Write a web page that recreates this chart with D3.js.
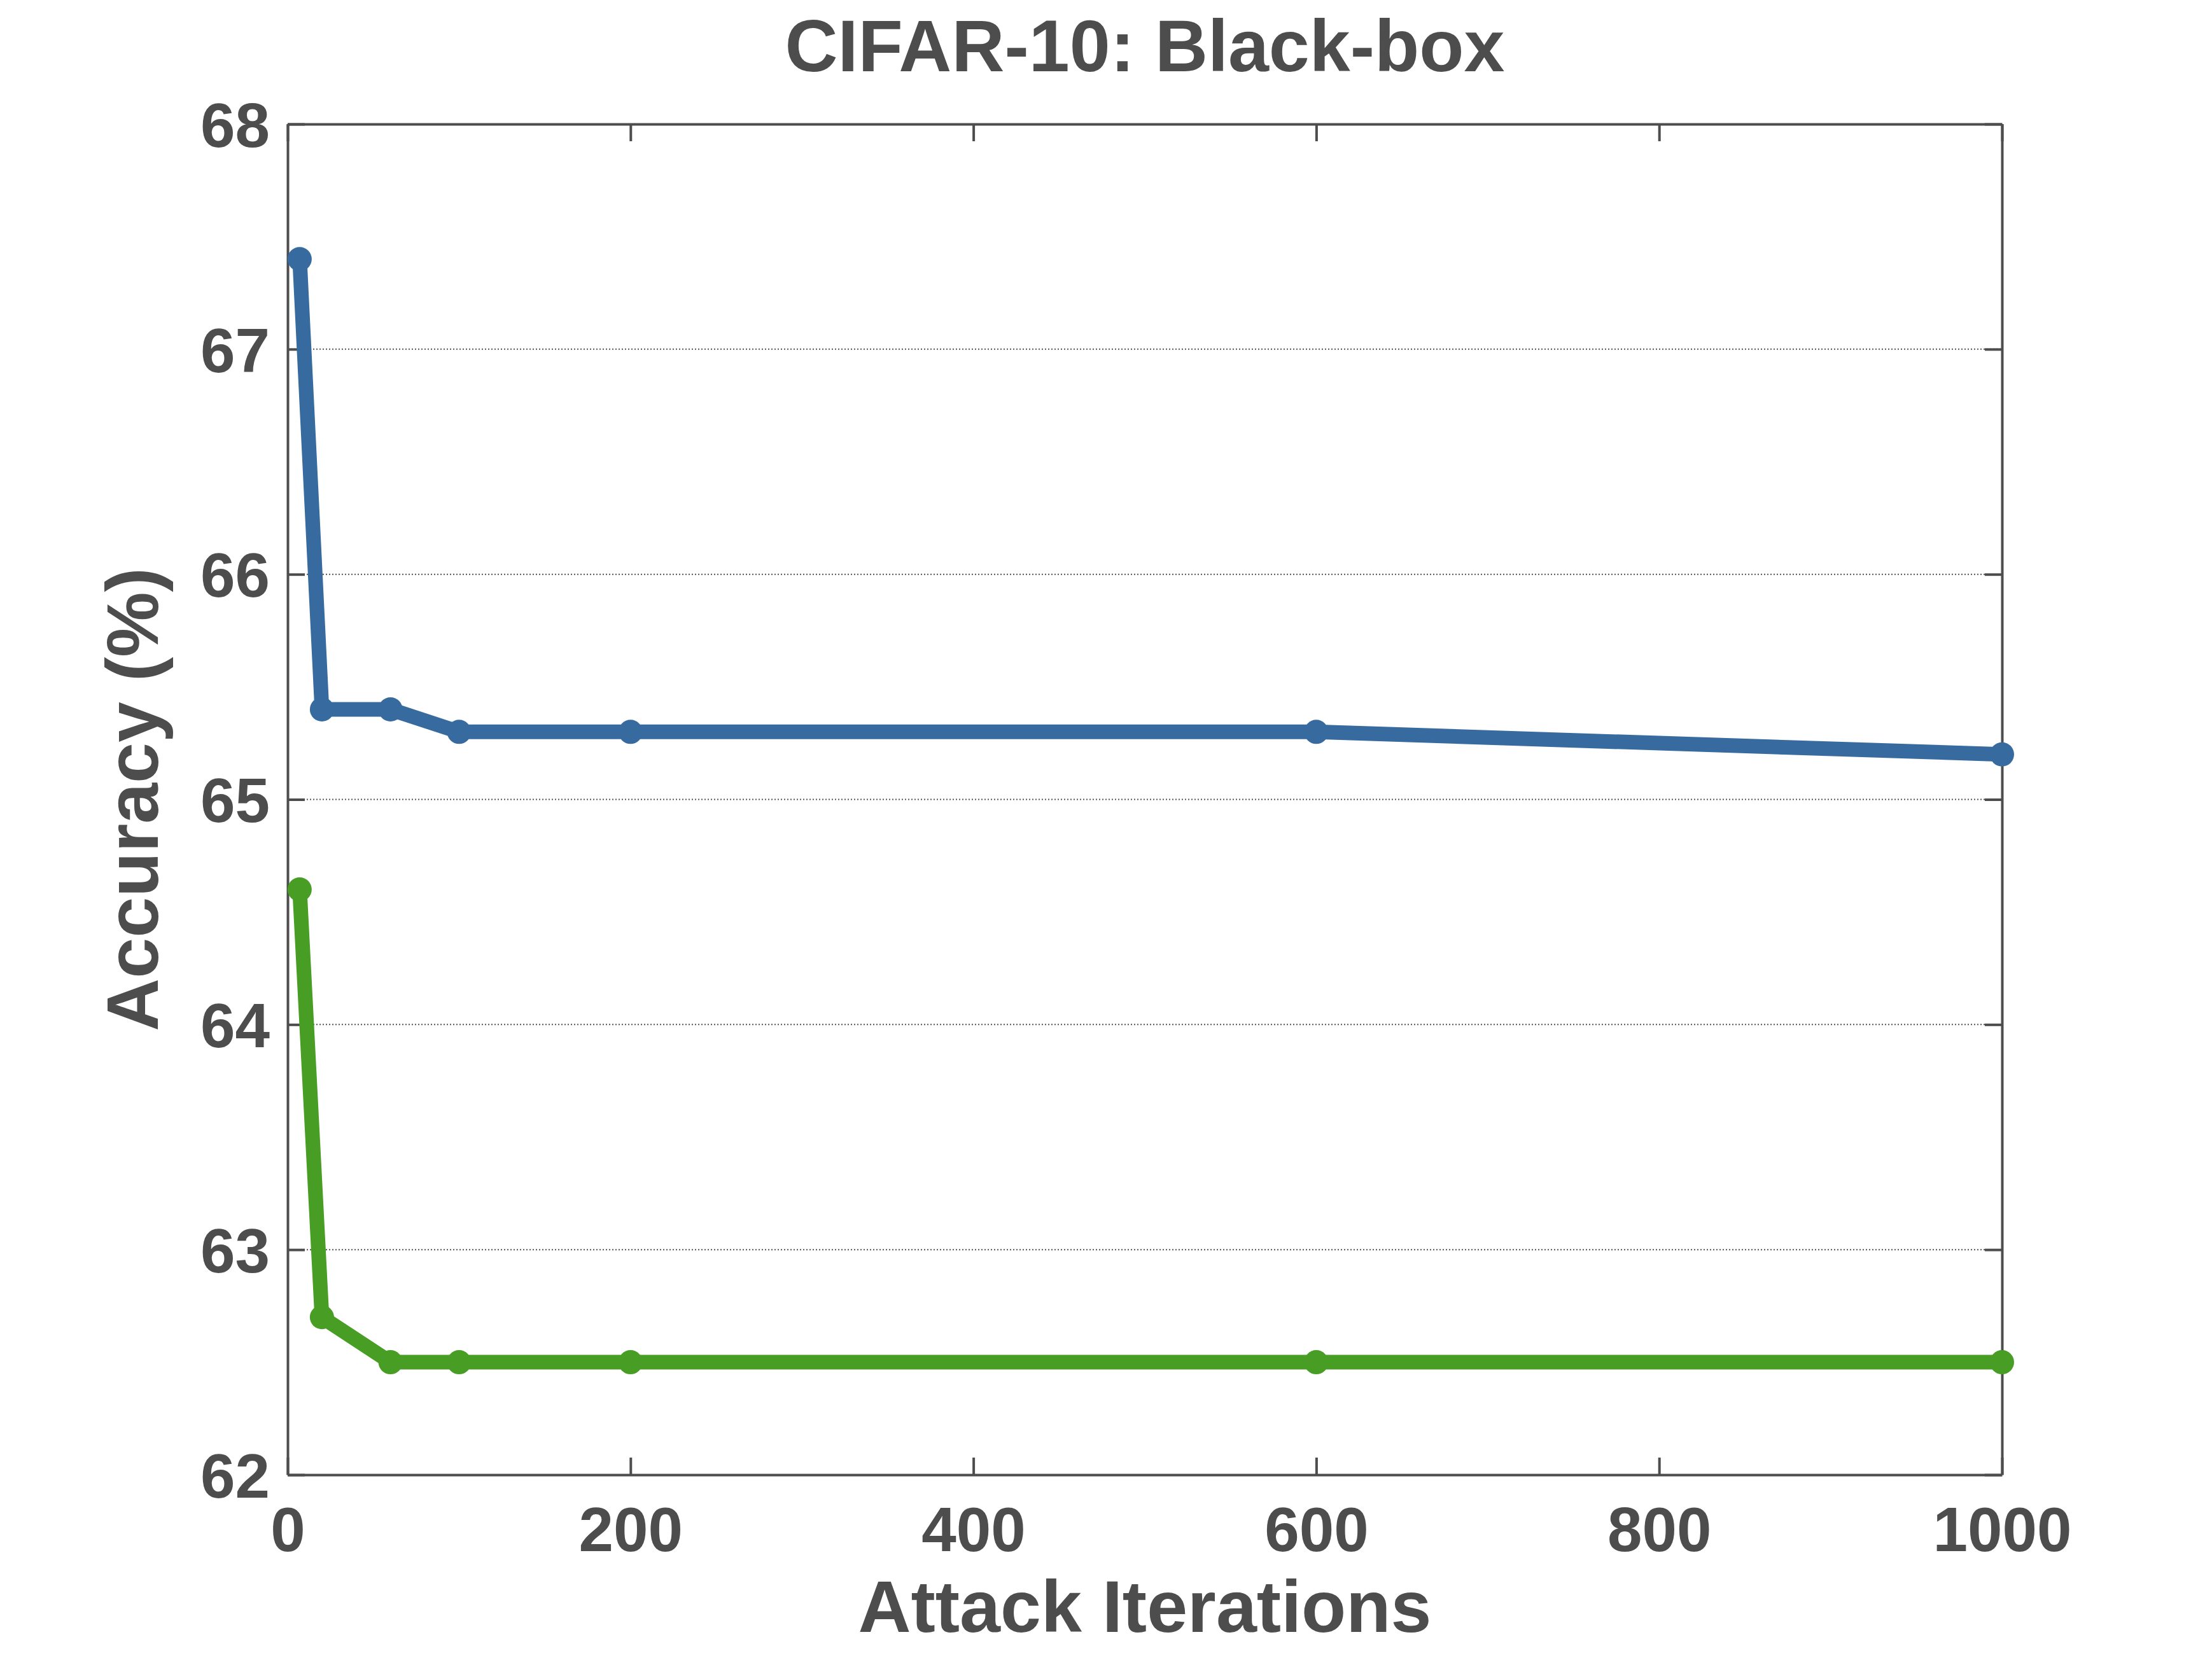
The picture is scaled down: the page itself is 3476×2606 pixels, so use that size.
<!DOCTYPE html>
<html>
<head>
<meta charset="utf-8">
<script src="https://cdn.jsdelivr.net/npm/d3@7"></script>
<style>
  body { margin: 0; background: #fff; }
  text { font-family: "Liberation Sans", Arial, Helvetica, sans-serif; font-weight: bold; fill: #4d4d4d; }
  .axis path, .axis line { stroke: #4d4d4d; }
</style>
</head>
<body>
<div id="canvas"></div>
<script>
// data
var iterations = [7, 20, 60, 100, 200, 600, 1000];
var blueAcc = [67.4, 65.4, 65.4, 65.3, 65.3, 65.3, 65.2];
var greenAcc = [64.6, 62.7, 62.5, 62.5, 62.5, 62.5, 62.5];
var xTicks = [0, 200, 400, 600, 800, 1000];
var yTicks = [62, 63, 64, 65, 66, 67, 68];

var W = 3476, H = 2606;
var m = {t:195, r:330, b:288, l:452};
var w = W - m.l - m.r,
    h = H - m.t - m.b;

var svg = d3.select('#canvas')
    .append('svg')
    .attr('width', W)
    .attr('height', H);

var plot = svg.append('g')
    .attr('transform', 'translate(' + m.l + ',' + m.t + ')');

var scaleX = d3.scaleLinear().domain([0, 1000]).range([0, w]);
var scaleY = d3.scaleLinear().domain([62, 68]).range([h, 0]);
var fmt = d3.format('d');

// dotted horizontal grid
plot.append('g').selectAll('line')
    .data(yTicks.slice(1, -1))
    .enter()
    .append('line')
    .attr('x1', 0).attr('x2', w)
    .attr('y1', function(d){ return scaleY(d); })
    .attr('y2', function(d){ return scaleY(d); })
    .style('stroke', '#555')
    .style('stroke-width', 2)
    .style('stroke-dasharray', '2,3');

// axes, ticks pointing inward on all four sides
var tk = 27;
var axisB = plot.append('g').attr('class', 'axis')
    .attr('transform', 'translate(0,' + h + ')')
    .call(d3.axisBottom(scaleX).tickValues(xTicks).tickFormat(fmt).tickSizeInner(-tk).tickSizeOuter(0));
axisB.selectAll('text').attr('y', 120).attr('dy', 0).style('font-size', '98px');

var axisT = plot.append('g').attr('class', 'axis')
    .call(d3.axisTop(scaleX).tickValues(xTicks).tickSizeInner(-tk).tickSizeOuter(0).tickFormat(''));

var axisL = plot.append('g').attr('class', 'axis')
    .call(d3.axisLeft(scaleY).tickValues(yTicks).tickFormat(fmt).tickSizeInner(-tk).tickSizeOuter(0));
axisL.selectAll('text').attr('x', -28).attr('dy', '0.36em').style('font-size', '98px');

var axisR = plot.append('g').attr('class', 'axis')
    .attr('transform', 'translate(' + w + ',0)')
    .call(d3.axisRight(scaleY).tickValues(yTicks).tickSizeInner(-tk).tickSizeOuter(0).tickFormat(''));

plot.selectAll('.axis path').style('stroke-width', 4);
plot.selectAll('.axis line').style('stroke-width', 4);

// series
var series = [
    {vals: blueAcc, color: '#376ba0'},
    {vals: greenAcc, color: '#489e25'}
];

var line = d3.line()
    .x(function(d){ return scaleX(d[0]); })
    .y(function(d){ return scaleY(d[1]); });

series.forEach(function(s){
    var pts = iterations.map(function(x, i){ return [x, s.vals[i]]; });
    plot.append('path')
        .datum(pts)
        .attr('d', line)
        .style('fill', 'none')
        .style('stroke', s.color)
        .style('stroke-width', 23)
        .style('stroke-linejoin', 'round');
    plot.append('g').selectAll('circle')
        .data(pts)
        .enter()
        .append('circle')
        .attr('cx', function(d){ return scaleX(d[0]); })
        .attr('cy', function(d){ return scaleY(d[1]); })
        .attr('r', 19)
        .style('fill', s.color);
});

// titles
svg.append('text')
    .attr('x', m.l + w / 2).attr('y', 112)
    .attr('text-anchor', 'middle')
    .style('font-size', '115px')
    .text('CIFAR-10: Black-box');

svg.append('text')
    .attr('x', m.l + w / 2).attr('y', 2565)
    .attr('text-anchor', 'middle')
    .style('font-size', '115px')
    .text('Attack Iterations');

svg.append('text')
    .attr('transform', 'translate(248,' + (m.t + h / 2) + ') rotate(-90)')
    .attr('text-anchor', 'middle')
    .style('font-size', '115px')
    .text('Accuracy (%)');
</script>
</body>
</html>
